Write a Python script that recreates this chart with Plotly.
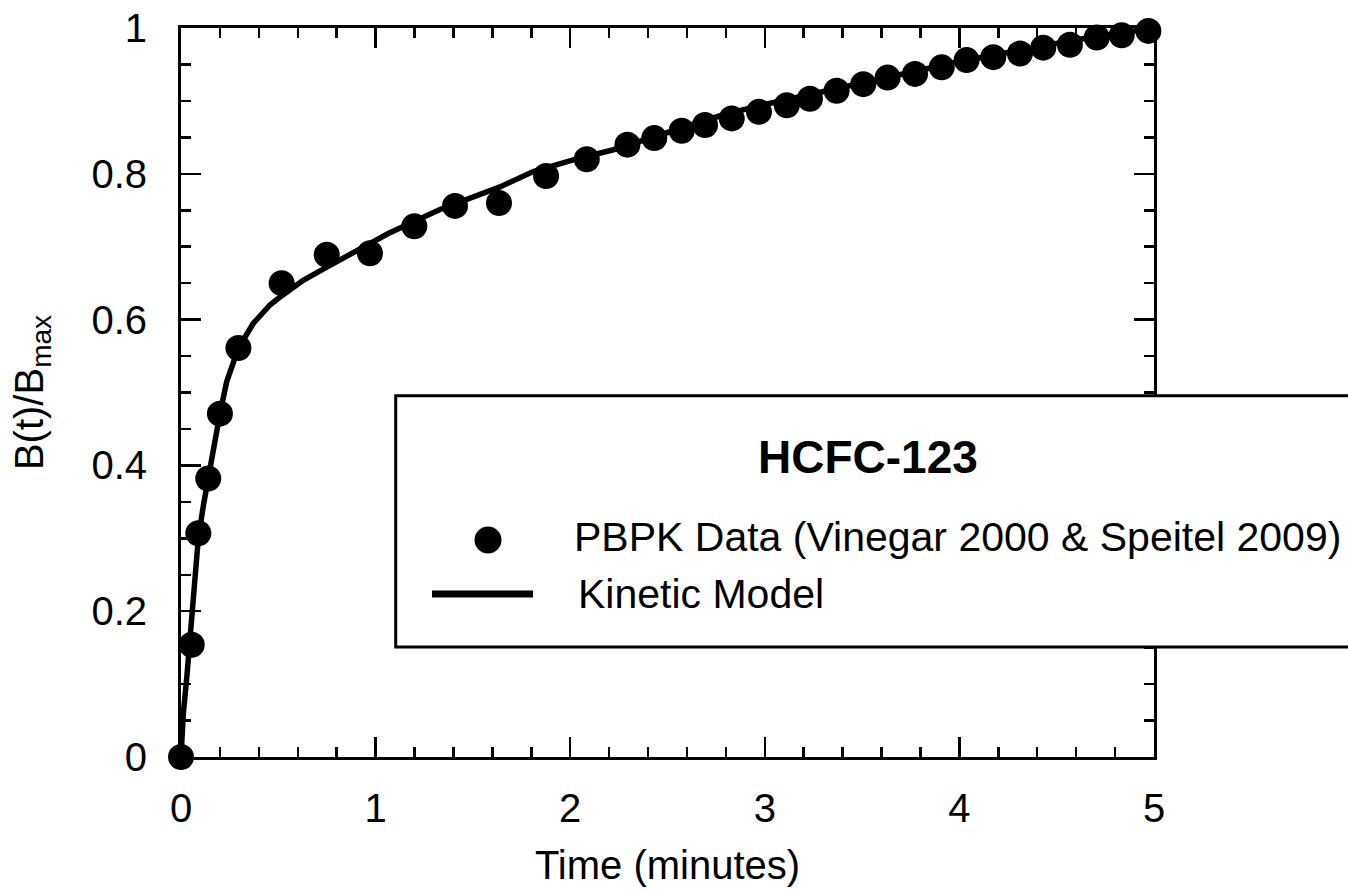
import plotly.graph_objects as go

# PBPK data points (time in minutes, B(t)/Bmax)
data_time = [0.0, 0.055, 0.089, 0.140, 0.200, 0.295, 0.517, 0.749, 0.971, 1.199,
             1.408, 1.634, 1.876, 2.085, 2.294, 2.432, 2.573, 2.693, 2.830, 2.970,
             3.113, 3.232, 3.369, 3.506, 3.631, 3.772, 3.909, 4.037, 4.174, 4.311,
             4.431, 4.568, 4.706, 4.834, 4.971]
data_value = [0.0, 0.154, 0.307, 0.382, 0.471, 0.561, 0.650, 0.689, 0.691, 0.728,
              0.756, 0.760, 0.797, 0.820, 0.840, 0.849, 0.859, 0.867, 0.876, 0.885,
              0.894, 0.903, 0.914, 0.923, 0.932, 0.937, 0.946, 0.956, 0.960, 0.965,
              0.973, 0.977, 0.987, 0.990, 0.996]

# Kinetic model curve
model_time = [0.0, 0.004, 0.012, 0.030, 0.050, 0.070, 0.089, 0.115, 0.140, 0.166,
              0.200, 0.235, 0.295, 0.372, 0.457, 0.509, 0.628, 0.749, 0.868, 0.971,
              1.065, 1.331, 1.639, 1.810, 2.016, 2.222, 2.410, 2.667, 2.8, 3.0,
              3.2, 3.4, 3.6, 3.8, 4.0, 4.2, 4.4, 4.6, 4.8, 5.0]
model_value = [0.0, 0.030, 0.060, 0.110, 0.170, 0.245, 0.300, 0.345, 0.385, 0.426,
               0.471, 0.515, 0.561, 0.595, 0.620, 0.631, 0.654, 0.672, 0.689, 0.705,
               0.718, 0.751, 0.782, 0.803, 0.819, 0.833, 0.849, 0.870, 0.882, 0.895,
               0.907, 0.919, 0.931, 0.943, 0.954, 0.964, 0.974, 0.984, 0.992, 1.0]

legend_title = "HCFC-123"
data_label = "PBPK Data (Vinegar 2000 & Speitel 2009)"
model_label = "Kinetic Model"

FONT = "Liberation Sans, Arial, Helvetica, sans-serif"
FS = 40
W, H = 1348, 889
L, R, T, B = 181, W - 1154, 28, H - 757
PW, PH = W - L - R, H - T - B


def px(x):
    return (x - L) / PW


def py(y):
    return (H - B - y) / PH


fig = go.Figure()
fig.add_trace(go.Scatter(x=model_time, y=model_value, mode="lines",
                         line=dict(color="black", width=5.5),
                         name=model_label, showlegend=False, cliponaxis=False))
fig.add_trace(go.Scatter(x=data_time, y=data_value, mode="markers",
                         marker=dict(color="black", size=26),
                         name=data_label, showlegend=False, cliponaxis=False))

axis_common = dict(
    showline=True, linewidth=3, linecolor="black", mirror="allticks",
    ticks="inside", ticklen=20, tickwidth=2.5, tickcolor="black",
    showgrid=False, zeroline=False, layer="below traces",
    tickfont=dict(family=FONT, size=FS, color="black"),
)

fig.update_xaxes(range=[0, 5], tick0=0, dtick=1,
                 minor=dict(ticks="inside", ticklen=10, tickwidth=2.5,
                            tickcolor="black", dtick=0.2, showgrid=False),
                 title=dict(text="Time (minutes)", standoff=22,
                            font=dict(family=FONT, size=FS, color="black")),
                 ticklabelstandoff=14,
                 **axis_common)
fig.update_yaxes(range=[0, 1], tick0=0, dtick=0.2,
                 minor=dict(ticks="inside", ticklen=10, tickwidth=2.5,
                            tickcolor="black", dtick=0.05, showgrid=False),
                 title=dict(text="B(t)/B<sub>max</sub>", standoff=36,
                            font=dict(family=FONT, size=FS, color="black")),
                 ticklabelstandoff=23,
                 **axis_common)

shapes = [
    dict(type="rect", xref="paper", yref="paper",
         x0=px(395.7), x1=px(1420), y0=py(647), y1=py(395.7),
         line=dict(color="black", width=3), fillcolor="white", layer="above"),
    dict(type="circle", xref="paper", yref="paper",
         x0=px(474.5), x1=px(501.5), y0=py(553.5), y1=py(526.5),
         line=dict(color="black", width=0), fillcolor="black", layer="above"),
    dict(type="line", xref="paper", yref="paper",
         x0=px(432), x1=px(533), y0=py(594), y1=py(594),
         line=dict(color="black", width=7), layer="above"),
]

annotations = [
    dict(text="<b>" + legend_title + "</b>", xref="paper", yref="paper",
         x=px(756), y=py(457), xanchor="left", yanchor="middle", showarrow=False,
         font=dict(family=FONT, size=46, color="black")),
    dict(text=data_label, xref="paper", yref="paper",
         x=px(572), y=py(537), xanchor="left", yanchor="middle", showarrow=False,
         font=dict(family=FONT, size=41, color="black")),
    dict(text=model_label, xref="paper", yref="paper",
         x=px(576), y=py(594), xanchor="left", yanchor="middle", showarrow=False,
         font=dict(family=FONT, size=41, color="black")),
]

fig.update_layout(
    width=W, height=H,
    margin=dict(l=L, r=R, t=T, b=B, pad=0, autoexpand=False),
    paper_bgcolor="white", plot_bgcolor="white",
    showlegend=False,
    shapes=shapes, annotations=annotations,
    font=dict(family=FONT, color="black"),
)

fig.write_html("out.html",
               config={"displayModeBar": False, "staticPlot": True},
               post_script="document.body.style.margin='0';"
                           "document.body.style.overflow='hidden';")
